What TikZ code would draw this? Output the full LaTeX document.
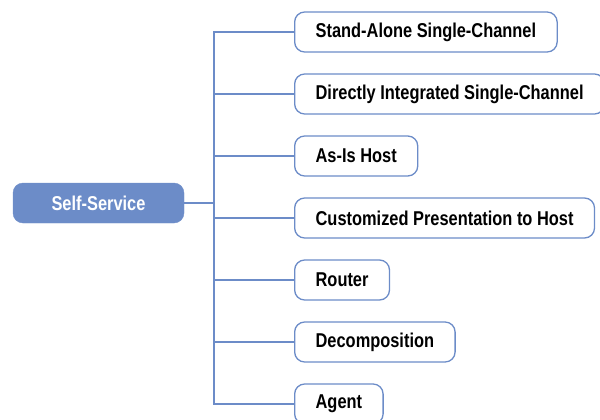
\documentclass[tikz,border=0pt]{standalone}
\usepackage{fontspec}
\usepackage{tikz}
\usetikzlibrary{positioning}
\newfontfamily\cnfont{Liberation Sans}[FakeStretch=0.82]
\definecolor{boxblue}{RGB}{108,140,200}

\begin{document}
\begin{tikzpicture}[
    x=1pt, y=1pt,
    font=\cnfont\bfseries\fontsize{20}{23}\selectfont,
    link/.style={draw=boxblue, line width=1.3pt},
    rootbox/.style={rectangle, rounded corners=10pt, fill=boxblue, draw=boxblue,
        text=white, minimum width=171pt, minimum height=40pt, inner sep=0},
    leafbox/.style={rectangle, rounded corners=10pt, draw=boxblue, line width=1.3pt,
        fill=white, text=black, anchor=west, minimum height=40pt, inner xsep=21pt, inner ysep=0}]
\useasboundingbox (0,0) rectangle (600,-420);

\node[rootbox] (root) at (98.5,-203) {Self-Service};
\coordinate (trunk) at (214,-203);

\node[leafbox] (c1) at (294,-32)  {Stand-Alone Single-Channel};
\node[leafbox] (c2) at (294,-94)  {Directly Integrated Single-Channel};
\node[leafbox] (c3) at (294,-156) {As-Is Host};
\node[leafbox] (c4) at (294,-218) {Customized Presentation to Host};
\node[leafbox] (c5) at (294,-280) {Router};
\node[leafbox] (c6) at (294,-342) {Decomposition};
\node[leafbox] (c7) at (294,-404) {Agent};

% tree links
\path[link] (root.east) -- (trunk);
\path[link] (trunk) |- (c1.west);
\path[link] (trunk) |- (c2.west);
\path[link] (trunk) |- (c3.west);
\path[link] (trunk) |- (c4.west);
\path[link] (trunk) |- (c5.west);
\path[link] (trunk) |- (c6.west);
\path[link] (trunk) |- (c7.west);

\end{tikzpicture}
\end{document}
